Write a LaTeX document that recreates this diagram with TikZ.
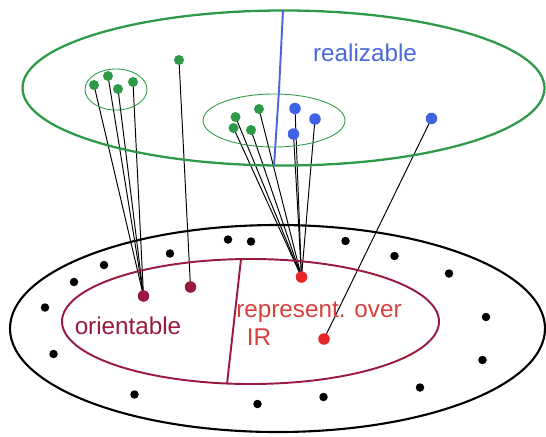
\documentclass[tikz,border=0pt]{standalone}
\usepackage{fontspec}
\setmainfont{Liberation Sans}
\usetikzlibrary{backgrounds}
\definecolor{setgreen}{HTML}{2E9A48}
\definecolor{ptblue}{HTML}{4062E6}
\definecolor{lineblue}{HTML}{4A68D8}
\definecolor{maroon}{HTML}{9A1A3E}
\definecolor{ptred}{HTML}{E82424}
\definecolor{txtred}{HTML}{D8403C}
\tikzset{
  pt/.style={circle, inner sep=0pt, minimum size=#1},
  gdot/.style={pt=0.2cm, fill=setgreen},
  bdot/.style={pt=0.23cm, fill=ptblue},
  kdot/.style={pt=0.17cm, fill=black},
  mdot/.style={pt=0.23cm, fill=maroon},
  rdot/.style={pt=0.23cm, fill=ptred},
  link/.style={black, line width=0.55pt},
  lbl/.style={font=\fontsize{13.8}{16}\selectfont, inner sep=0pt},
}
\begin{document}
\begin{tikzpicture}[x=0.02cm, y=-0.02cm]
\useasboundingbox (0,0) rectangle (546,436);

% upper level: the realizable sets
\draw[setgreen, line width=1.3pt] (283.5,88) ellipse [x radius=261, y radius=77.5];
\draw[setgreen, line width=0.5pt] (116,89.5) ellipse [x radius=31, y radius=20.5];
\draw[setgreen, line width=0.5pt] (274,120.5) ellipse [x radius=71, y radius=26.5];
\draw[lineblue, line width=1.1pt] (283,10) -- (279,90) -- (274,166);
\node[lbl, text=lineblue] (real) at (365,53) {realizable};

% lower level: all matroids, orientable and representable ones
\draw[black, line width=1.2pt] (277.5,328.5) ellipse [x radius=267.5, y radius=103.5];
\draw[maroon, line width=1.1pt] (250.5,321.5) ellipse [x radius=188.5, y radius=62.5];
\draw[maroon, line width=1.1pt] (241,259) -- (227,384);
\node[lbl, text=maroon] (orient) at (128,326) {orientable};
\node[lbl, text=txtred, anchor=west, align=left] (repr) at (236,324)
  {represent. over\\\hspace*{6pt}IR};

% points of the upper level
\node[gdot] (a1) at (94,85) {};
\node[gdot] (a2) at (108,76) {};
\node[gdot] (a3) at (118,89) {};
\node[gdot] (a4) at (133,82) {};
\node[gdot] (s1) at (179,60) {};
\node[gdot] (c1) at (235.5,117) {};
\node[gdot] (c2) at (259,109) {};
\node[gdot] (c3) at (233.5,128) {};
\node[gdot] (c4) at (251,130) {};
\node[bdot] (d1) at (295,108.5) {};
\node[bdot] (d2) at (315,119) {};
\node[bdot] (d3) at (293.5,134) {};
\node[bdot] (f1) at (431.5,118.5) {};

% points of the lower level
\node[mdot] (o1) at (143.5,296) {};
\node[mdot] (o2) at (190.5,287) {};
\node[rdot] (r1) at (301.5,277) {};
\node[rdot] (r2) at (324,339) {};
\foreach \n/\p in {k1/{228,239.5}, k2/{251,241.5}, k3/{170,253.5}, k4/{104,265},
                  k5/{74,282}, k6/{45,307.5}, k7/{53.5,354}, k8/{134.5,394.5},
                  k9/{257.5,404}, k10/{345.5,241}, k11/{394.5,256}, k12/{449,273.5},
                  k13/{486,317}, k14/{482.5,360}, k15/{420,387.5}, k16/{323.5,397}}
  \node[kdot] (\n) at (\p) {};

% links from the upper points to their images below
\begin{scope}[on background layer]
\foreach \u in {a1,a2,a3,a4} \draw[link] (\u.center) -- (o1.center);
\draw[link] (s1.center) -- (o2.center);
\foreach \u in {c1,c2,c3,c4,d1,d2,d3} \draw[link] (\u.center) -- (r1.center);
\draw[link] (f1.center) -- (r2.center);
\end{scope}
\end{tikzpicture}
\end{document}
